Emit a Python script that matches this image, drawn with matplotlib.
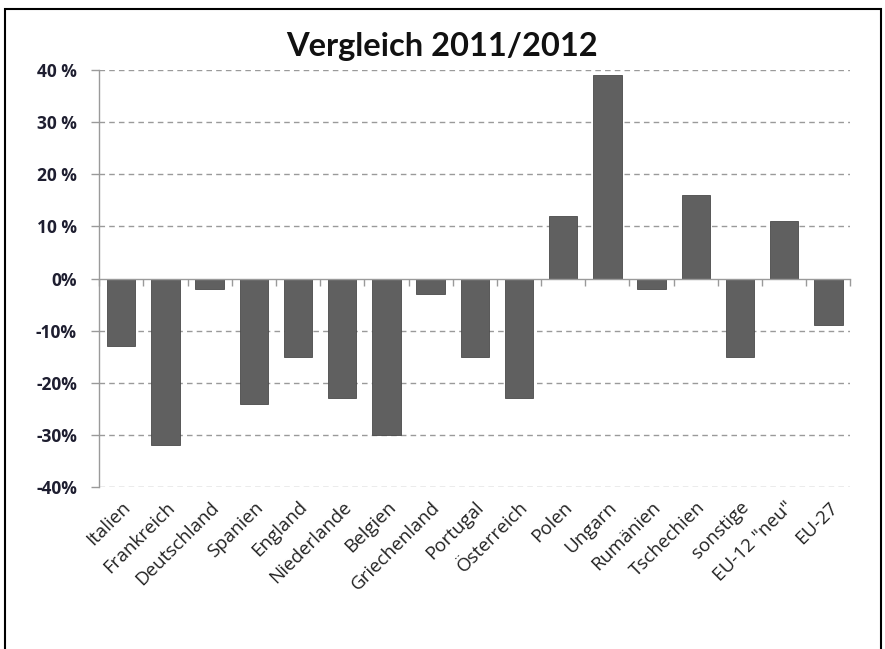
import matplotlib.pyplot as plt
import matplotlib.patches as mpatches
import numpy as np

countries = ['Italien', 'Frankreich', 'Deutschland', 'Spanien', 'England',
             'Niederlande', 'Belgien', 'Griechenland', 'Portugal', 'Österreich',
             'Polen', 'Ungarn', 'Rumänien', 'Tschechien', 'sonstige',
             'EU-12 "neu"', 'EU-27']
change = [-13, -32, -2, -24, -15, -23, -30, -3, -15, -23,
          12, 39, -2, 16, -15, 11, -9]
yticks = [-40, -30, -20, -10, 0, 10, 20, 30, 40]

fig = plt.figure(figsize=(8.85, 6.49), dpi=100)
ax = fig.add_axes([0.112, 0.2496, 0.849, 0.6425])

x = np.arange(len(countries))
ax.bar(x, change, width=0.64, color='#606060', edgecolor='#4a4a4a',
       linewidth=0.6, zorder=3)

ax.set_xlim(-0.5, len(countries) - 0.5)
ax.set_ylim(-40, 40)
ax.set_yticks(yticks)
ax.set_yticklabels([f'{v}%' if v <= 0 else f'{v} %' for v in yticks],
                   fontsize=12.5, fontweight='bold', family='Open Sans', color='#1e1e30')
for v in yticks:
    if v != 0:
        ax.axhline(v, color='#9a9a9a', linestyle=(0, (4, 3)), linewidth=1, zorder=1)

ax.set_xticks(x)
ax.set_xticklabels(countries, rotation=45, ha='right', rotation_mode='anchor',
                   fontsize=13.5, family='Open Sans', color='#222222')
ax.tick_params(axis='x', length=0, pad=8)
ax.tick_params(axis='y', length=6, color='#9a9a9a', width=1, pad=10)

for s in ['top', 'right', 'bottom']:
    ax.spines[s].set_visible(False)
ax.spines['left'].set_color('#9a9a9a')
ax.spines['left'].set_linewidth(1)

# category axis at zero with ticks between bars
sec = ax.secondary_xaxis(0.5)
sec.set_alignment('bottom')
sec.set_xticks(np.arange(len(countries) + 1) - 0.5)
sec.set_xticklabels([])
sec.tick_params(length=5, color='#9a9a9a', width=1, direction='out')
for s in sec.spines.values():
    s.set_color('#9a9a9a')
    s.set_linewidth(1)
sec.set_zorder(4)

fig.text(0.5, 0.928, 'Vergleich 2011/2012', ha='center', va='center',
         fontsize=23.5, fontweight='bold', family='Lato', color='#111111')

fig.patches.append(mpatches.Rectangle((0.006, -0.05), 0.99, 1.036,
                                      transform=fig.transFigure, fill=False,
                                      edgecolor='black', linewidth=1.5))

fig.savefig('out.png', dpi=100)
